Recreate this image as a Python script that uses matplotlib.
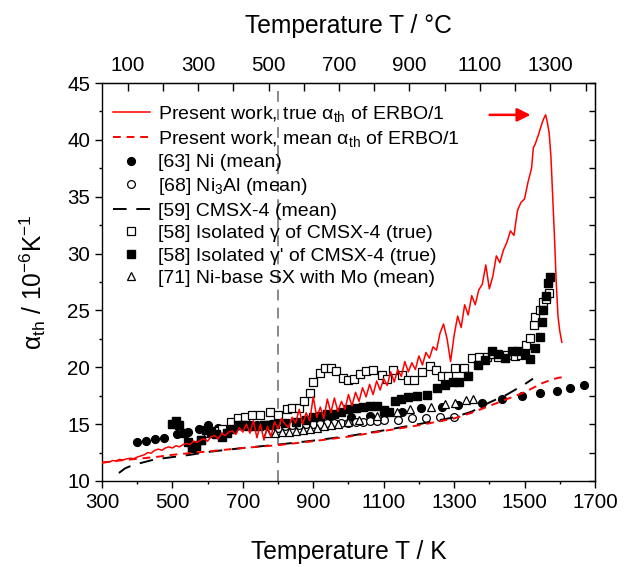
import numpy as np
import matplotlib
matplotlib.use('Agg')
import matplotlib.pyplot as plt
from matplotlib.ticker import MultipleLocator

plt.rcParams['font.family'] = ['Liberation Sans', 'DejaVu Sans']
plt.rcParams['mathtext.fontset'] = 'custom'
plt.rcParams['mathtext.rm'] = 'Liberation Sans'
plt.rcParams['mathtext.it'] = 'Liberation Sans:italic'
plt.rcParams['mathtext.default'] = 'regular'

# present work, true alpha_th of ERBO/1
T_true = [300, 310, 320, 330, 340, 350, 360, 370, 380, 390, 400, 410, 420, 430, 440,
          450, 460, 470, 480, 490, 500, 510, 520, 530, 540, 550, 560, 570, 580, 590,
          600, 610, 620, 630, 640, 650, 660, 670, 680, 690, 700, 710, 720, 730, 740,
          750, 760, 770, 780, 790, 800, 810, 820, 830, 840, 850, 860, 870, 880, 890,
          900, 910, 920, 930, 940, 950, 960, 970, 980, 990, 1000, 1010, 1020, 1030,
          1040, 1050, 1060, 1070, 1080, 1090, 1100, 1110, 1120, 1130, 1140, 1150,
          1160, 1170, 1180, 1190, 1200, 1210, 1220, 1230, 1240, 1250, 1260, 1270,
          1280, 1290, 1300, 1310, 1320, 1330, 1340, 1350, 1360, 1370, 1380, 1390,
          1400, 1410, 1420, 1430, 1440, 1450, 1460, 1470, 1480, 1490, 1500, 1510,
          1520, 1525, 1530, 1540, 1550, 1555, 1560, 1565, 1570, 1575, 1580, 1585,
          1590, 1595, 1600, 1606]
a_true = [11.6, 11.7, 11.65, 11.8, 11.75, 11.9, 11.85, 11.95, 12.0, 11.95, 12.1, 12.2, 12.3,
          12.5, 12.45, 12.7, 12.8, 12.7, 12.9, 13.0, 12.9, 13.1, 13.0, 13.2, 13.3, 13.2,
          13.5, 13.4, 13.6, 13.7, 13.5, 13.9, 14.0, 13.7, 14.2, 14.0, 14.3, 14.4, 14.1,
          14.7, 14.3, 15.0, 14.2, 15.3, 13.8, 15.0, 13.6, 14.8, 13.9, 15.2, 14.6, 15.5,
          15.0, 14.7, 15.6, 15.1, 16.3, 15.0, 16.0, 15.3, 17.4, 15.6, 16.5, 15.5, 17.2,
          16.0, 17.3, 16.1, 17.0, 16.3, 17.6, 16.6, 17.8, 17.0, 18.2, 17.4, 18.5, 17.6,
          18.8, 18.0, 19.0, 18.4, 19.6, 18.7, 19.8, 19.2, 20.5, 19.6, 20.4, 19.8, 21.0,
          20.2, 21.3, 20.8, 21.8, 21.5, 23.0, 23.8, 22.5, 20.5, 22.8, 24.5, 23.5, 25.5,
          24.6, 26.3, 25.5, 26.8, 27.3, 29.0, 26.9, 28.0, 29.8, 29.2, 30.3, 31.0, 32.0,
          31.6, 33.8, 34.5, 34.8, 36.3, 37.5, 39.3, 39.6, 40.5, 41.5, 41.9, 42.2, 41.5,
          40.6, 38.5, 35.0, 31.5, 27.5, 24.5, 23.2, 22.2]

# present work, mean alpha_th of ERBO/1
T_mean = [300, 350, 400, 450, 500, 600, 700, 800, 900, 1000, 1100, 1200, 1300, 1350,
          1400, 1450, 1500, 1550, 1580, 1600, 1614]
a_mean = [11.6, 11.8, 11.95, 12.1, 12.3, 12.6, 12.9, 13.15, 13.5, 13.9, 14.4, 14.9,
          15.5, 16.0, 16.6, 17.2, 17.8, 18.6, 18.95, 19.1, 19.1]

# [63] Ni (mean)
T_ni = [400, 425, 450, 475, 512, 545, 575, 600, 630, 655, 680, 700, 720, 740, 760, 780,
        840, 895, 950, 1006, 1061, 1100, 1152, 1206, 1265, 1311, 1379, 1436, 1493,
        1544, 1592, 1629, 1669]
a_ni = [13.4, 13.5, 13.7, 13.8, 14.1, 14.3, 14.6, 14.9, 14.7, 14.4, 14.8, 14.9, 14.9,
        14.9, 14.9, 15.0, 15.1, 15.2, 15.5, 15.6, 15.7, 15.9, 16.1, 16.4, 16.5, 16.7,
        16.9, 17.2, 17.5, 17.7, 17.9, 18.2, 18.4]

# [68] Ni3Al (mean)
T_ni3al = [780, 800, 820, 840, 860, 880, 900, 920, 940, 960, 980, 1000, 1020, 1040,
           1060, 1080, 1100, 1140, 1180, 1220, 1260, 1300]
a_ni3al = [14.5, 14.7, 14.8, 14.9, 14.9, 15.0, 15.0, 15.0, 15.1, 15.1, 15.1, 15.1,
           15.2, 15.2, 15.3, 15.3, 15.4, 15.4, 15.5, 15.5, 15.6, 15.6]

# [59] CMSX-4 (mean)
T_cmsx = [348, 365, 380, 400, 450, 500, 550, 600, 700, 800, 900, 1000, 1100, 1200,
          1300, 1350, 1400, 1450, 1500, 1524]
a_cmsx = [10.7, 11.1, 11.3, 11.5, 11.9, 12.1, 12.3, 12.55, 12.9, 13.2, 13.55, 13.95,
          14.45, 15.0, 15.6, 16.1, 16.9, 17.6, 18.5, 19.0]

# [58] isolated gamma of CMSX-4 (true)
T_gam = [555, 568, 580, 600, 620, 640, 665, 686, 705, 726, 750, 777, 800, 825, 840,
         860, 875, 891, 900, 919, 934, 950, 966, 985, 998, 1015, 1033, 1050, 1070,
         1095, 1110, 1127, 1152, 1169, 1186, 1209, 1232, 1248, 1265, 1283, 1302, 1327,
         1350, 1372, 1393, 1410, 1425, 1450, 1473, 1490, 1504, 1516, 1526, 1530, 1544,
         1553, 1560, 1570]
a_gam = [12.9, 13.2, 13.6, 14.2, 14.4, 14.6, 15.2, 15.5, 15.6, 15.8, 15.8, 16.1, 15.8,
         16.3, 16.4, 16.4, 17.0, 17.7, 18.7, 19.5, 19.9, 19.9, 19.7, 19.1, 18.9, 19.0,
         19.4, 19.7, 19.8, 19.3, 19.0, 19.8, 19.3, 18.9, 18.9, 19.6, 20.1, 19.8, 19.2,
         19.2, 19.9, 19.9, 20.8, 20.9, 20.9, 21.2, 20.9, 21.1, 21.0, 21.1, 22.0, 22.6,
         23.7, 24.4, 25.0, 25.7, 26.0, 26.5]

# [58] isolated gamma' of CMSX-4 (true)
T_gp = [500, 510, 520, 532, 545, 555, 568, 580, 595, 610, 625, 640, 655, 670, 685, 700,
        715, 730, 745, 760, 775, 790, 820, 850, 880, 900, 920, 940, 960, 980, 1000,
        1020, 1040, 1060, 1080, 1100, 1115, 1132, 1150, 1169, 1195, 1223, 1251, 1274,
        1297, 1315, 1339, 1369, 1388, 1408, 1425, 1444, 1464, 1482, 1500, 1515, 1530,
        1544, 1549, 1553, 1560, 1567, 1572]
a_gp = [15.0, 15.3, 14.9, 14.2, 13.4, 13.0, 13.1, 13.6, 14.5, 14.3, 14.1, 13.9, 14.2,
        14.6, 14.9, 14.9, 14.8, 14.8, 14.8, 14.9, 14.9, 15.0, 15.1, 15.2, 15.4, 15.6,
        15.7, 15.9, 15.9, 16.1, 16.3, 16.4, 16.5, 16.6, 16.6, 16.2, 16.1, 17.0, 17.2,
        17.4, 17.5, 17.6, 18.2, 18.4, 18.7, 18.7, 19.2, 20.2, 20.6, 21.4, 21.2, 20.8,
        21.4, 21.4, 21.2, 20.7, 21.7, 22.7, 24.0, 25.0, 26.3, 27.4, 27.9]

# [71] Ni-base SX with Mo (mean)
T_mo = [770, 790, 810, 830, 850, 870, 890, 910, 930, 950, 970, 1000, 1030, 1080, 1138,
        1175, 1234, 1274, 1302, 1334, 1354]
a_mo = [14.2, 14.2, 14.3, 14.3, 14.4, 14.5, 14.6, 14.7, 14.8, 14.9, 15.0, 15.2, 15.4,
        15.7, 16.1, 16.3, 16.5, 16.8, 16.9, 17.1, 17.2]

fig = plt.figure(figsize=(6.33, 5.67), dpi=100)
ax = fig.add_axes([0.1611, 0.1517, 0.7788, 0.7019])

ax.axvline(800, color='#808080', lw=1.3, dashes=(6, 4), zorder=1)

ms = 5.6
ax.plot(T_ni, a_ni, 'o', color='black', ms=ms, ls='none', label='[63] Ni (mean)', zorder=3)
ax.plot(T_ni3al, a_ni3al, 'o', mfc='white', mec='black', mew=0.9, ms=ms, ls='none',
        label='[68] Ni$_3$Al (mean)', zorder=3)
ax.plot(T_gam, a_gam, 's', mfc='white', mec='black', mew=0.9, ms=ms, ls='none',
        label='[58] Isolated γ of CMSX-4 (true)', zorder=3)
ax.plot(T_gp, a_gp, 's', color='black', ms=ms, ls='none',
        label="[58] Isolated γ' of CMSX-4 (true)", zorder=3)
ax.plot(T_mo, a_mo, '^', mfc='white', mec='black', mew=0.9, ms=ms, ls='none',
        label='[71] Ni-base SX with Mo (mean)', zorder=3)
ax.plot(T_cmsx, a_cmsx, color='black', lw=1.4, dashes=(7, 5), label='[59] CMSX-4 (mean)', zorder=4)
ax.plot(T_mean, a_mean, color='red', lw=1.4, dashes=(4, 3),
        label='Present work, mean α$_{th}$ of ERBO/1', zorder=5)
ax.plot(T_true, a_true, color='red', lw=1.1,
        label='Present work, true α$_{th}$ of ERBO/1', zorder=5)

ax.annotate('', xy=(1525, 42.2), xytext=(1393, 42.2),
            arrowprops=dict(arrowstyle='-|>', color='red', lw=1.8, mutation_scale=20))

ax.set_xlim(300, 1700)
ax.set_ylim(10, 45)
ax.set_xticks(range(300, 1701, 200))
ax.set_xticks(range(400, 1700, 200), minor=True)
ax.yaxis.set_major_locator(MultipleLocator(5))
ax.yaxis.set_minor_locator(MultipleLocator(2.5))
ax.tick_params(which='both', direction='out', labelsize=14.8, width=1.0, top=False, right=False)
ax.tick_params(which='major', length=5)
ax.tick_params(which='minor', length=2.5)
for s in ax.spines.values():
    s.set_linewidth(1.0)
ax.set_xlabel('Temperature T / K', fontsize=17.7, labelpad=20)
ax.set_ylabel('α$_{th}$ / 10$^{-6}$K$^{-1}$', fontsize=17.7, labelpad=14)

top = ax.secondary_xaxis('top', functions=(lambda k: k - 273.15, lambda c: c + 273.15))
top.set_xticks(range(100, 1400, 200))
top.set_xticks(range(200, 1500, 200), minor=True)
top.tick_params(which='both', direction='in', length=5.5, width=1.0, labelsize=14.8, pad=6)
top.set_xlabel('Temperature T / °C', fontsize=17.7, labelpad=16)

right = ax.secondary_yaxis('right')
right.yaxis.set_major_locator(MultipleLocator(5))
right.yaxis.set_minor_locator(MultipleLocator(2.5))
right.tick_params(which='both', direction='in', length=4, width=1.0, labelright=False)

h, l = ax.get_legend_handles_labels()
order = [7, 6, 0, 1, 5, 2, 3, 4]
ax.legend([h[i] for i in order], [l[i] for i in order], loc='upper left',
          bbox_to_anchor=(0.022, 0.947), frameon=False, fontsize=14, numpoints=1,
          handlelength=1.9, handletextpad=0.4, labelspacing=0.25, borderpad=0,
          borderaxespad=0)

fig.savefig('out.png', dpi=100)
